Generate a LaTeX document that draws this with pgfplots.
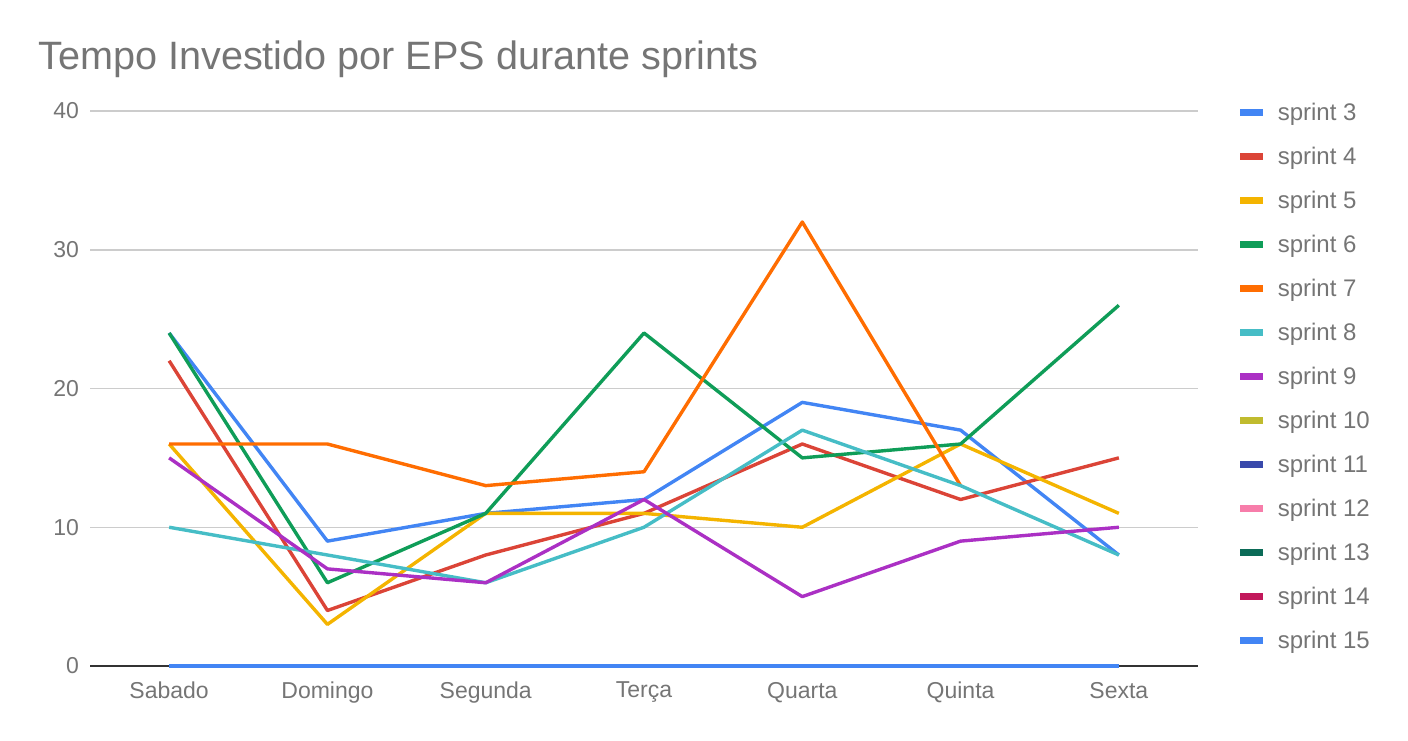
\documentclass[border=0pt]{standalone}
\usepackage{fontspec}
\setmainfont{Liberation Sans}
\usepackage{pgfplots}
\pgfplotsset{compat=1.18}
\definecolor{c3}{HTML}{4285F4}
\definecolor{c4}{HTML}{DB4437}
\definecolor{c5}{HTML}{F4B400}
\definecolor{c6}{HTML}{0F9D58}
\definecolor{c7}{HTML}{FF6D01}
\definecolor{c8}{HTML}{46BDC6}
\definecolor{c9}{HTML}{AB30C4}
\definecolor{c10}{HTML}{C0BB2E}
\definecolor{c11}{HTML}{3949AB}
\definecolor{c12}{HTML}{F77DAA}
\definecolor{c13}{HTML}{0B6B57}
\definecolor{c14}{HTML}{C2185B}
\definecolor{c15}{HTML}{4285F4}
\definecolor{txt}{HTML}{757575}
\definecolor{gridc}{HTML}{CCCCCC}
\begin{document}
\begin{tikzpicture}
\path[use as bounding box] (0,0) rectangle (704pt,370pt);
\node[anchor=base west, text=txt, font=\fontsize{19.8pt}{23pt}\selectfont, inner sep=0pt] at (19pt,335pt) {Tempo Investido por EPS durante sprints};
\begin{axis}[
  at={(45pt,37pt)}, anchor=south west,
  scale only axis, width=554pt, height=277.5pt,
  xmin=-0.5, xmax=6.5, ymin=0, ymax=40,
  xtick={0,1,2,3,4,5,6},
  xticklabels={Sabado,Domingo,Segunda,Terça,Quarta,Quinta,Sexta},
  ytick={0,10,20,30,40},
  ymajorgrids, grid style={draw=gridc, line width=0.75pt},
  axis line style={draw=none},
  major tick length=0pt,
  tick label style={text=txt, font=\fontsize{11.5pt}{13pt}\selectfont},
  /pgf/number format/assume math mode=true,
  xticklabel style={yshift=-4.5pt},
  yticklabel style={xshift=-2pt},
  clip=false,
  every axis plot/.append style={line width=1.7pt, line join=round},
  legend style={at={(1.029,1.03)}, anchor=north west, draw=none, fill=none,
    font=\fontsize{12pt}{13pt}\selectfont, text=txt, row sep=7.8pt,
    /tikz/every even column/.append style={column sep=0pt}},
  legend cell align=left,
  legend image code/.code={\draw[line width=3.5pt,#1] (0pt,0pt) -- (11.5pt,0pt); \path (16pt,0pt);},
]
\addplot[draw=black!80, line width=1pt, forget plot] coordinates {(-0.5,0) (6.5,0)};
\addplot[c3] coordinates {(0,24) (1,9) (2,11) (3,12) (4,19) (5,17) (6,8)};
\addlegendentry{sprint 3}
\addplot[c4] coordinates {(0,22) (1,4) (2,8) (3,11) (4,16) (5,12) (6,15)};
\addlegendentry{sprint 4}
\addplot[c5] coordinates {(0,16) (1,3) (2,11) (3,11) (4,10) (5,16) (6,11)};
\addlegendentry{sprint 5}
\addplot[c6] coordinates {(0,24) (1,6) (2,11) (3,24) (4,15) (5,16) (6,26)};
\addlegendentry{sprint 6}
\addplot[c7] coordinates {(0,16) (1,16) (2,13) (3,14) (4,32) (5,13)};
\addlegendentry{sprint 7}
\addplot[c8] coordinates {(0,10) (1,8) (2,6) (3,10) (4,17) (5,13) (6,8)};
\addlegendentry{sprint 8}
\addplot[c9] coordinates {(0,15) (1,7) (2,6) (3,12) (4,5) (5,9) (6,10)};
\addlegendentry{sprint 9}
\addplot[c10] coordinates {(0,0) (1,0) (2,0) (3,0) (4,0) (5,0) (6,0)};
\addlegendentry{sprint 10}
\addplot[c11] coordinates {(0,0) (1,0) (2,0) (3,0) (4,0) (5,0) (6,0)};
\addlegendentry{sprint 11}
\addplot[c12] coordinates {(0,0) (1,0) (2,0) (3,0) (4,0) (5,0) (6,0)};
\addlegendentry{sprint 12}
\addplot[c13] coordinates {(0,0) (1,0) (2,0) (3,0) (4,0) (5,0) (6,0)};
\addlegendentry{sprint 13}
\addplot[c14] coordinates {(0,0) (1,0) (2,0) (3,0) (4,0) (5,0) (6,0)};
\addlegendentry{sprint 14}
\addplot[c15] coordinates {(0,0) (1,0) (2,0) (3,0) (4,0) (5,0) (6,0)};
\addlegendentry{sprint 15}
\end{axis}
\end{tikzpicture}
\end{document}
